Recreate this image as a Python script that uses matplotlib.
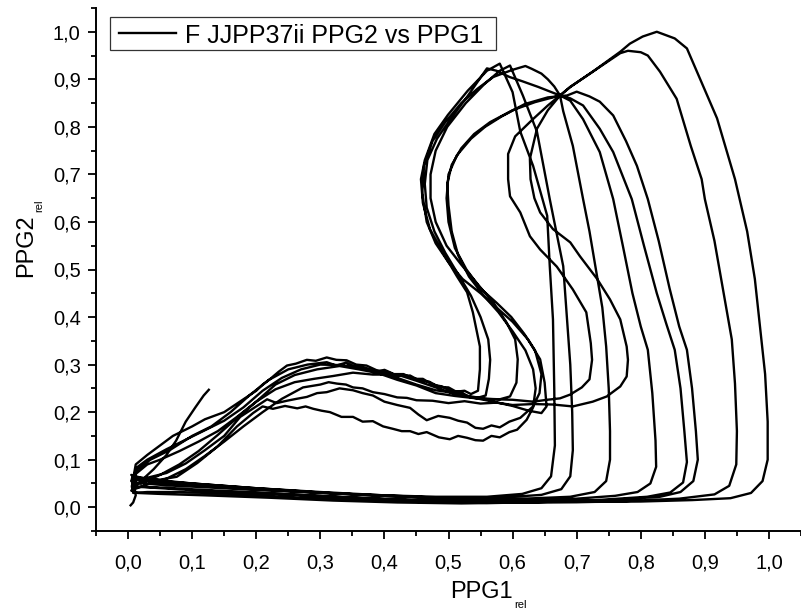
import numpy as np
import matplotlib.pyplot as plt
from matplotlib.ticker import MultipleLocator, FuncFormatter
from matplotlib.patches import Rectangle
from matplotlib.lines import Line2D

plt.rcParams['font.family'] = ['Liberation Sans', 'DejaVu Sans']

# PPG1_rel, PPG2_rel samples, cycle by cycle
start = [(0.004, 0.004), (0.008, 0.01), (0.012, 0.025)]

cycle1 = [(0.008, 0.06), (0.012, 0.09), (0.03, 0.11), (0.05, 0.13), (0.07, 0.15), (0.1, 0.17), (0.12, 0.185),
          (0.15, 0.2), (0.17, 0.218), (0.2, 0.245), (0.21, 0.258), (0.222, 0.27), (0.235, 0.285), (0.248, 0.298),
          (0.262, 0.302), (0.279, 0.31), (0.293, 0.308), (0.31, 0.315), (0.325, 0.31), (0.341, 0.309),
          (0.356, 0.3), (0.372, 0.298), (0.388, 0.288), (0.404, 0.285), (0.42, 0.276), (0.44, 0.277),
          (0.455, 0.266), (0.47, 0.264), (0.485, 0.253), (0.5, 0.252), (0.512, 0.243), (0.525, 0.245),
          (0.535, 0.238), (0.546, 0.245), (0.549, 0.29), (0.549, 0.338), (0.538, 0.41), (0.529, 0.452),
          (0.513, 0.486), (0.491, 0.536), (0.471, 0.585), (0.46, 0.64), (0.457, 0.69), (0.463, 0.73),
          (0.478, 0.785), (0.499, 0.825), (0.53, 0.876), (0.56, 0.918), (0.58, 0.933), (0.6, 0.873),
          (0.612, 0.79), (0.632, 0.718), (0.654, 0.613), (0.658, 0.507), (0.663, 0.395), (0.665, 0.25),
          (0.666, 0.13), (0.66, 0.065), (0.645, 0.04), (0.615, 0.028), (0.56, 0.022), (0.48, 0.022),
          (0.4, 0.025), (0.3, 0.03), (0.2, 0.036), (0.12, 0.042), (0.06, 0.046), (0.025, 0.05), (0.008, 0.052)]

cycle2 = [(0.02, 0.05), (0.05, 0.068), (0.08, 0.09), (0.11, 0.118), (0.14, 0.152), (0.17, 0.188), (0.2, 0.222),
          (0.23, 0.258), (0.26, 0.278), (0.295, 0.29), (0.33, 0.297), (0.36, 0.29), (0.39, 0.282), (0.42, 0.268),
          (0.45, 0.256), (0.48, 0.24), (0.51, 0.234), (0.55, 0.228), (0.6, 0.226), (0.632, 0.222),
          (0.654, 0.226), (0.674, 0.229), (0.69, 0.237), (0.708, 0.252), (0.72, 0.269), (0.724, 0.31),
          (0.722, 0.345), (0.715, 0.41), (0.694, 0.458), (0.669, 0.506), (0.643, 0.542), (0.627, 0.57),
          (0.612, 0.62), (0.596, 0.654), (0.593, 0.69), (0.593, 0.743), (0.604, 0.78), (0.63, 0.814),
          (0.655, 0.845), (0.674, 0.866), (0.69, 0.884), (0.725, 0.916), (0.768, 0.958), (0.783, 0.975),
          (0.803, 0.99), (0.825, 1.0), (0.853, 0.986), (0.872, 0.965), (0.897, 0.887), (0.919, 0.818),
          (0.947, 0.69), (0.966, 0.58), (0.978, 0.48), (0.986, 0.38), (0.994, 0.28), (0.998, 0.18),
          (0.998, 0.1), (0.99, 0.055), (0.972, 0.03), (0.94, 0.019), (0.88, 0.015), (0.8, 0.012), (0.7, 0.011),
          (0.6, 0.012), (0.5, 0.014), (0.4, 0.018), (0.3, 0.024), (0.2, 0.03), (0.1, 0.036), (0.05, 0.04),
          (0.015, 0.043)]

cycle3 = [(0.005, 0.055), (0.015, 0.08), (0.035, 0.1), (0.065, 0.12), (0.1, 0.15), (0.13, 0.17), (0.16, 0.2),
          (0.19, 0.236), (0.22, 0.268), (0.25, 0.29), (0.28, 0.3), (0.31, 0.305), (0.325, 0.298), (0.34, 0.304),
          (0.355, 0.295), (0.37, 0.293), (0.385, 0.283), (0.4, 0.289), (0.415, 0.28), (0.43, 0.28),
          (0.445, 0.27), (0.46, 0.27), (0.475, 0.258), (0.49, 0.254), (0.505, 0.244), (0.52, 0.242),
          (0.532, 0.232), (0.545, 0.23), (0.558, 0.235), (0.563, 0.27), (0.565, 0.31), (0.562, 0.353),
          (0.55, 0.4), (0.535, 0.445), (0.515, 0.49), (0.495, 0.535), (0.478, 0.58), (0.466, 0.63),
          (0.463, 0.68), (0.467, 0.73), (0.482, 0.775), (0.505, 0.82), (0.53, 0.865), (0.56, 0.923),
          (0.575, 0.918), (0.595, 0.905), (0.615, 0.896), (0.64, 0.884), (0.674, 0.866), (0.679, 0.833),
          (0.694, 0.76), (0.71, 0.648), (0.72, 0.58), (0.73, 0.5), (0.74, 0.42), (0.746, 0.338), (0.75, 0.25),
          (0.752, 0.16), (0.752, 0.1), (0.746, 0.055), (0.728, 0.032), (0.69, 0.022), (0.6, 0.017), (0.5, 0.019),
          (0.4, 0.025), (0.3, 0.032), (0.2, 0.04), (0.1, 0.05), (0.04, 0.056), (0.01, 0.06)]

cycle4 = [(0.01, 0.058), (0.03, 0.062), (0.06, 0.072), (0.09, 0.092), (0.12, 0.12), (0.15, 0.15), (0.175, 0.19),
          (0.2, 0.212), (0.217, 0.227), (0.232, 0.219), (0.248, 0.224), (0.263, 0.228), (0.279, 0.232),
          (0.295, 0.24), (0.31, 0.242), (0.33, 0.25), (0.351, 0.246), (0.366, 0.24), (0.382, 0.235),
          (0.4, 0.222), (0.42, 0.215), (0.44, 0.209), (0.453, 0.195), (0.466, 0.183), (0.484, 0.192),
          (0.502, 0.188), (0.515, 0.182), (0.529, 0.178), (0.542, 0.167), (0.554, 0.165), (0.567, 0.172),
          (0.58, 0.168), (0.595, 0.18), (0.612, 0.188), (0.632, 0.212), (0.642, 0.24), (0.645, 0.28),
          (0.635, 0.33), (0.618, 0.365), (0.598, 0.4), (0.575, 0.43), (0.55, 0.46), (0.528, 0.5), (0.51, 0.545),
          (0.5, 0.6), (0.497, 0.65), (0.5, 0.7), (0.513, 0.74), (0.535, 0.775), (0.557, 0.8), (0.583, 0.822),
          (0.619, 0.848), (0.655, 0.862), (0.685, 0.866), (0.7, 0.874), (0.72, 0.864), (0.736, 0.853),
          (0.757, 0.824), (0.777, 0.77), (0.794, 0.718), (0.811, 0.648), (0.828, 0.56), (0.845, 0.46),
          (0.86, 0.38), (0.872, 0.331), (0.88, 0.25), (0.886, 0.16), (0.889, 0.1), (0.882, 0.055),
          (0.862, 0.032), (0.83, 0.022), (0.75, 0.015), (0.65, 0.012), (0.55, 0.012), (0.45, 0.014),
          (0.35, 0.02), (0.25, 0.027), (0.15, 0.034), (0.07, 0.04), (0.025, 0.043), (0.006, 0.042)]

cycle5 = [(0.006, 0.045), (0.012, 0.07), (0.03, 0.09), (0.05, 0.1), (0.08, 0.118), (0.11, 0.138), (0.14, 0.16),
          (0.17, 0.19), (0.2, 0.222), (0.23, 0.248), (0.26, 0.263), (0.29, 0.27), (0.32, 0.276), (0.351, 0.283),
          (0.382, 0.279), (0.42, 0.279), (0.45, 0.266), (0.48, 0.252), (0.51, 0.238), (0.54, 0.232),
          (0.56, 0.228), (0.58, 0.227), (0.596, 0.233), (0.606, 0.262), (0.608, 0.311), (0.604, 0.353),
          (0.59, 0.39), (0.57, 0.43), (0.545, 0.47), (0.52, 0.51), (0.497, 0.55), (0.48, 0.6), (0.472, 0.65),
          (0.472, 0.7), (0.48, 0.75), (0.498, 0.8), (0.527, 0.85), (0.556, 0.89), (0.58, 0.918), (0.596, 0.929),
          (0.616, 0.866), (0.638, 0.79), (0.658, 0.648), (0.679, 0.507), (0.685, 0.395), (0.69, 0.3),
          (0.693, 0.2), (0.694, 0.12), (0.69, 0.065), (0.676, 0.038), (0.645, 0.026), (0.58, 0.02), (0.48, 0.02),
          (0.38, 0.025), (0.28, 0.032), (0.18, 0.04), (0.1, 0.047), (0.04, 0.053), (0.012, 0.058)]

cycle6 = [(0.01, 0.038), (0.03, 0.048), (0.06, 0.06), (0.09, 0.08), (0.12, 0.108), (0.15, 0.138), (0.18, 0.17),
          (0.21, 0.2), (0.24, 0.228), (0.273, 0.252), (0.3, 0.258), (0.313, 0.263), (0.326, 0.26), (0.34, 0.258),
          (0.351, 0.252), (0.366, 0.25), (0.382, 0.242), (0.4, 0.238), (0.42, 0.231), (0.435, 0.23),
          (0.45, 0.225), (0.475, 0.224), (0.5, 0.219), (0.525, 0.223), (0.55, 0.218), (0.575, 0.22), (0.6, 0.215),
          (0.632, 0.217), (0.663, 0.216), (0.694, 0.212), (0.725, 0.222), (0.747, 0.233), (0.768, 0.254),
          (0.778, 0.275), (0.78, 0.31), (0.778, 0.338), (0.768, 0.395), (0.752, 0.437), (0.732, 0.48),
          (0.705, 0.528), (0.69, 0.557), (0.663, 0.585), (0.643, 0.62), (0.634, 0.65), (0.628, 0.69),
          (0.627, 0.733), (0.638, 0.796), (0.655, 0.835), (0.674, 0.866), (0.69, 0.884), (0.725, 0.916),
          (0.768, 0.955), (0.78, 0.96), (0.8, 0.957), (0.811, 0.95), (0.83, 0.916), (0.856, 0.859),
          (0.878, 0.76), (0.895, 0.69), (0.9, 0.648), (0.915, 0.56), (0.928, 0.46), (0.942, 0.353),
          (0.947, 0.26), (0.95, 0.16), (0.949, 0.09), (0.938, 0.045), (0.915, 0.027), (0.86, 0.018),
          (0.76, 0.012), (0.66, 0.01), (0.56, 0.009), (0.46, 0.011), (0.36, 0.015), (0.26, 0.021),
          (0.16, 0.028), (0.08, 0.032), (0.03, 0.032), (0.008, 0.03)]

cycle7 = [(0.006, 0.06), (0.015, 0.085), (0.03, 0.1), (0.06, 0.122), (0.09, 0.142), (0.12, 0.162), (0.15, 0.182),
          (0.18, 0.21), (0.21, 0.245), (0.24, 0.272), (0.27, 0.29), (0.3, 0.3), (0.33, 0.299), (0.36, 0.295),
          (0.39, 0.286), (0.42, 0.272), (0.45, 0.258), (0.48, 0.246), (0.51, 0.24), (0.54, 0.23), (0.57, 0.222),
          (0.6, 0.213), (0.625, 0.203), (0.645, 0.198), (0.653, 0.212), (0.65, 0.262), (0.643, 0.311),
          (0.624, 0.353), (0.6, 0.39), (0.575, 0.42), (0.55, 0.45), (0.522, 0.48), (0.5, 0.515), (0.48, 0.555),
          (0.466, 0.6), (0.459, 0.66), (0.462, 0.72), (0.475, 0.77), (0.495, 0.81), (0.52, 0.85), (0.545, 0.88),
          (0.57, 0.905), (0.6, 0.92), (0.62, 0.928), (0.63, 0.922), (0.645, 0.912), (0.655, 0.9), (0.665, 0.885),
          (0.674, 0.866), (0.69, 0.855), (0.71, 0.816), (0.736, 0.747), (0.757, 0.648), (0.772, 0.55),
          (0.787, 0.45), (0.8, 0.38), (0.811, 0.331), (0.818, 0.24), (0.823, 0.14), (0.824, 0.085),
          (0.815, 0.05), (0.795, 0.032), (0.76, 0.024), (0.7, 0.018), (0.6, 0.016), (0.5, 0.019), (0.4, 0.024),
          (0.3, 0.031), (0.2, 0.04), (0.1, 0.05), (0.04, 0.058), (0.01, 0.064)]

cycle8 = [(0.005, 0.068), (0.02, 0.062), (0.05, 0.058), (0.076, 0.064), (0.108, 0.093), (0.139, 0.127),
          (0.17, 0.17), (0.195, 0.198), (0.21, 0.212), (0.226, 0.207), (0.245, 0.213), (0.264, 0.208),
          (0.277, 0.212), (0.289, 0.207), (0.302, 0.203), (0.315, 0.2), (0.333, 0.19), (0.351, 0.19),
          (0.366, 0.18), (0.382, 0.181), (0.398, 0.17), (0.413, 0.165), (0.427, 0.16), (0.44, 0.16),
          (0.453, 0.154), (0.466, 0.158), (0.485, 0.147), (0.502, 0.143), (0.515, 0.15), (0.529, 0.146),
          (0.542, 0.141), (0.554, 0.14), (0.567, 0.15), (0.58, 0.147), (0.595, 0.158), (0.607, 0.163),
          (0.622, 0.184), (0.632, 0.21), (0.636, 0.25), (0.632, 0.29), (0.62, 0.33), (0.6, 0.37), (0.578, 0.41),
          (0.555, 0.445), (0.532, 0.485), (0.515, 0.53), (0.505, 0.58), (0.5, 0.635), (0.498, 0.68),
          (0.505, 0.72), (0.52, 0.755), (0.54, 0.785), (0.565, 0.81), (0.6, 0.835), (0.635, 0.852),
          (0.674, 0.866), (0.69, 0.86), (0.71, 0.845), (0.736, 0.796), (0.757, 0.747), (0.786, 0.648),
          (0.805, 0.55), (0.825, 0.45), (0.84, 0.385), (0.853, 0.331), (0.862, 0.25), (0.868, 0.16),
          (0.872, 0.095), (0.866, 0.052), (0.846, 0.031), (0.81, 0.022), (0.72, 0.014), (0.62, 0.01),
          (0.52, 0.008), (0.42, 0.01), (0.32, 0.014), (0.22, 0.02), (0.12, 0.025), (0.05, 0.028),
          (0.015, 0.03), (0.005, 0.035)]

tail = [(0.02, 0.055), (0.04, 0.08), (0.06, 0.11), (0.075, 0.14), (0.09, 0.18), (0.105, 0.21), (0.118, 0.235),
        (0.126, 0.247)]

legend_label = "F JJPP37ii PPG2 vs PPG1"

W, H = 801, 614


def px(x, y):
    # pixel position -> figure fraction
    return x / W, 1 - y / H


fig = plt.figure(figsize=(W / 100, H / 100), dpi=100)
ax = fig.add_axes([96 / W, 83 / H, 705 / W, 523 / H])

path = np.array(start + cycle1 + cycle2 + cycle3 + cycle4 + cycle5 + cycle6 + cycle7 + cycle8 + tail)
ax.plot(path[:, 0], path[:, 1], color='black', lw=1.7, solid_joinstyle='round')

ax.set_xlim(-0.05, 1.05)
ax.set_ylim(-0.05, 1.05)
for s in ['top', 'right']:
    ax.spines[s].set_visible(False)
for s in ['left', 'bottom']:
    ax.spines[s].set_linewidth(1.4)

comma = FuncFormatter(lambda v, p: f"{abs(v):.1f}".replace('.', ','))
for axis in [ax.xaxis, ax.yaxis]:
    axis.set_major_locator(MultipleLocator(0.1))
    axis.set_minor_locator(MultipleLocator(0.05))
    axis.set_major_formatter(comma)

ax.tick_params(which='major', direction='out', length=6, width=1.3, labelsize=14.5)
ax.tick_params(which='minor', direction='out', length=3.5, width=1.3)
ax.tick_params(axis='x', which='major', pad=10)
ax.tick_params(axis='y', which='major', pad=5)

# axis titles with small "rel" subscripts
fig.text(*px(450, 598), 'PPG1', fontsize=17, ha='left', va='baseline')
fig.text(*px(514, 608), 'rel', fontsize=8, ha='left', va='baseline')
fig.text(*px(32, 277), 'PPG2', fontsize=17, rotation=90, rotation_mode='anchor', ha='left', va='baseline')
fig.text(*px(42, 212), 'rel', fontsize=8, rotation=90, rotation_mode='anchor', ha='left', va='baseline')

# legend box
x0, y0 = px(110, 50)
fig.add_artist(Rectangle((x0, y0), 386 / W, 33 / H, transform=fig.transFigure,
                         facecolor='white', edgecolor='#333333', lw=0.9))
lx0, ly = px(119, 33)
lx1, _ = px(176, 33)
fig.add_artist(Line2D([lx0, lx1], [ly, ly], transform=fig.transFigure, color='black', lw=1.7))
fig.text(*px(185, 43), legend_label, fontsize=18, ha='left', va='baseline')

fig.savefig('out.png', dpi=100)
